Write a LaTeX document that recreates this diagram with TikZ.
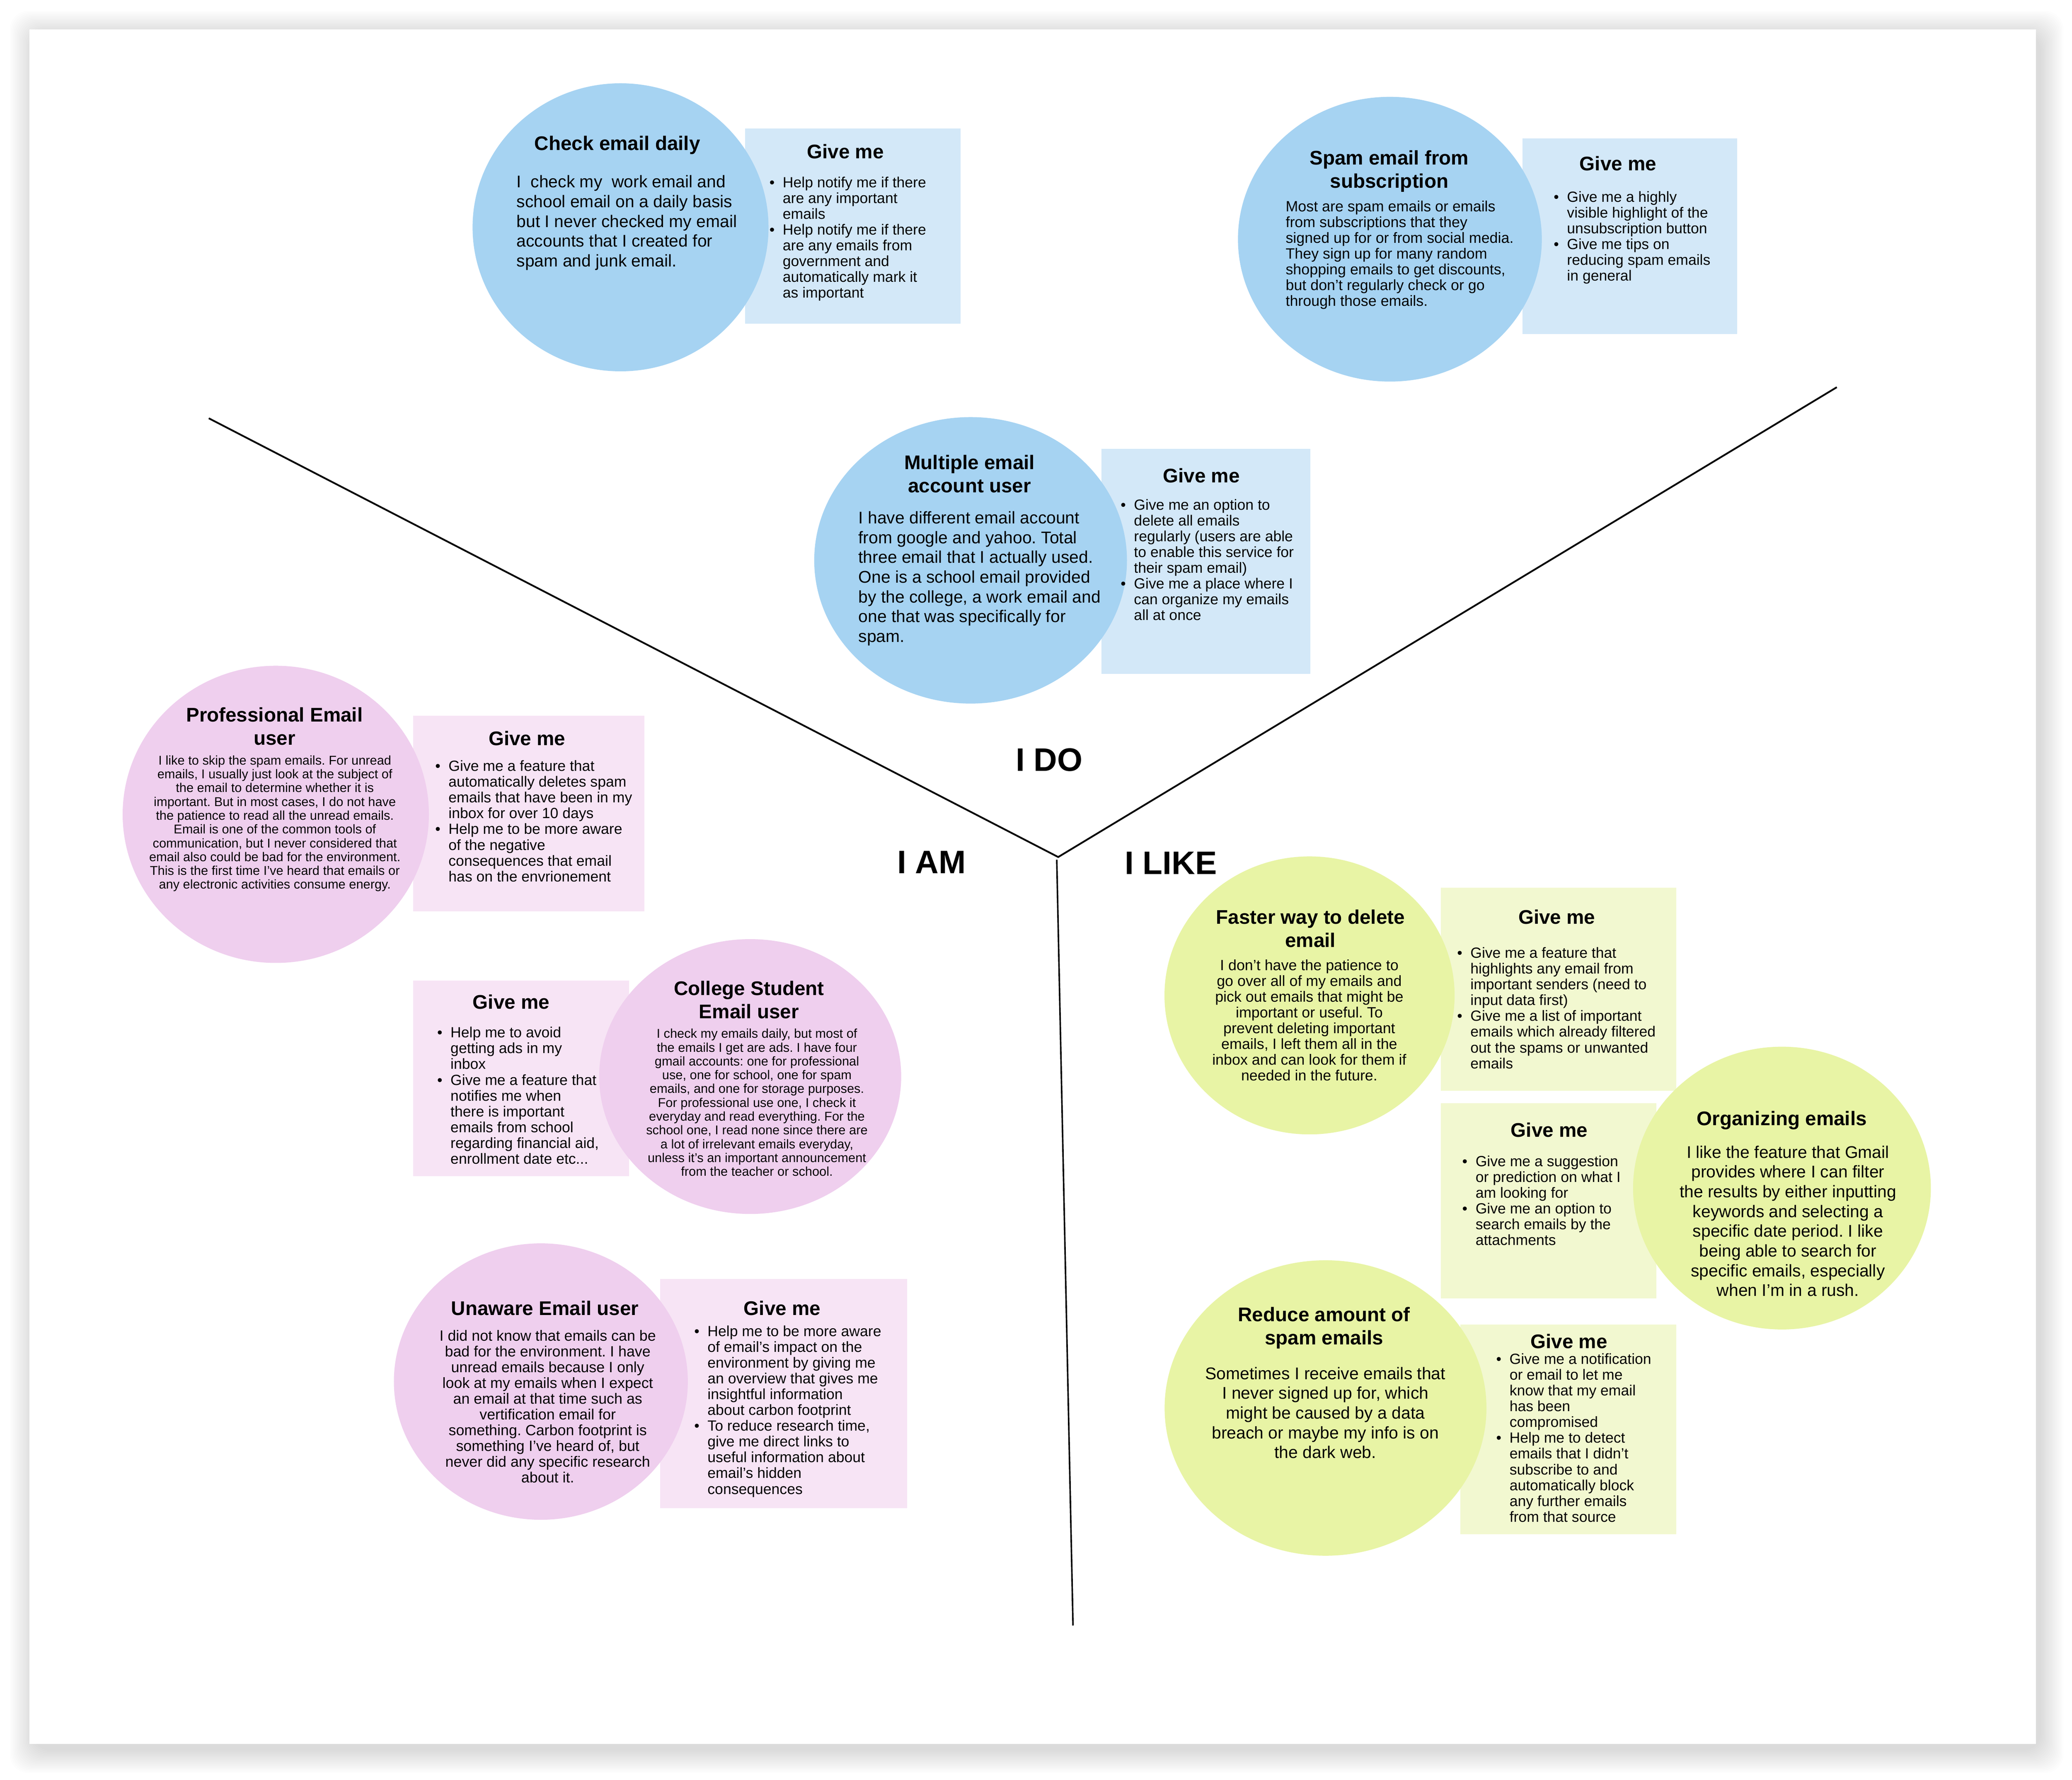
\documentclass[tikz,border=0pt]{standalone}
\usepackage{fontspec}
\setmainfont{Liberation Sans}
\usetikzlibrary{shapes.geometric,fit}
\definecolor{eblue}{HTML}{A6D3F2}
\definecolor{bblue}{HTML}{D3E8F8}
\definecolor{epink}{HTML}{EFCFEE}
\definecolor{bpink}{HTML}{F7E4F5}
\definecolor{egreen}{HTML}{E8F4A5}
\definecolor{bgreen}{HTML}{F2F8D0}
\newcommand\mystrut{\rule{0pt}{0.78em}}
\newcommand\bu{\mystrut\llap{\textbullet\hspace{3.5pt}}}
\frenchspacing
\begin{document}
\begin{tikzpicture}[x=0.02cm,y=-0.02cm,
  ell/.style={ellipse,draw=none,inner sep=0pt},
  gbox/.style={rectangle,draw=none,inner sep=0pt},
  ttl/.style={font=\fontsize{8.5}{10.0}\selectfont\bfseries,align=center,anchor=north,inner sep=0pt},
  fbig/.style={font=\fontsize{7.3}{8.51}\selectfont},
  fmed/.style={font=\fontsize{6.4}{6.79}\selectfont},
  fsml/.style={font=\fontsize{5.5}{5.94}\selectfont},
  fbul/.style={font=\fontsize{6.35}{6.8}\selectfont,align=left,anchor=north west,inner sep=0pt},
  txtL/.style={align=left,anchor=north west,inner sep=0pt},
  txtC/.style={align=center,anchor=north,inner sep=0pt},
  axisline/.style={draw=black,line width=0.75pt},
  lab/.style={font=\fontsize{14}{16}\selectfont\bfseries,inner sep=0pt}
]
\useasboundingbox (0,0) rectangle (1568,1346.6);
% page with soft shadow
\foreach \i in {1,...,18}{
  \fill[black,opacity=0.009,rounded corners=8pt] ({25.4-\i},{26.2-\i}) rectangle ({1543.6+\i},{1323.7+\i});
}
\fill[white] (22.4,22.2) rectangle (1540.6,1319.7);

% ---------- boxes ----------
\node[gbox,fill=bblue,fit={(564,97.2) (727,245)}] (b1) {};
\node[gbox,fill=bblue,fit={(1152,104.8) (1314.6,252.6)}] (b2) {};
\node[gbox,fill=bblue,fit={(833.5,339.6) (991.5,509.8)}] (b3) {};
\node[gbox,fill=bpink,fit={(312.8,541.5) (487.7,689.6)}] (b4) {};
\node[gbox,fill=bpink,fit={(312.5,741.9) (475.9,889.9)}] (b5) {};
\node[gbox,fill=bpink,fit={(499.7,967.8) (686.6,1141.2)}] (b6) {};
\node[gbox,fill=bgreen,fit={(1090.5,671.7) (1268.5,825.5)}] (b7) {};
\node[gbox,fill=bgreen,fit={(1090.5,834.8) (1253.5,982.5)}] (b8) {};
\node[gbox,fill=bgreen,fit={(1105.2,1002.2) (1268.5,1160.8)}] (b9) {};

% ---------- ellipses ----------
\node[ell,fill=eblue,minimum width=4.48cm,minimum height=4.36cm] (e1) at (469.6,172) {};
\node[ell,fill=eblue,minimum width=4.60cm,minimum height=4.31cm] (e2) at (1051.8,181) {};
\node[ell,fill=eblue,minimum width=4.734cm,minimum height=4.336cm] (e3) at (734.5,424) {};
\node[ell,fill=epink,minimum width=4.636cm,minimum height=4.498cm] (e4) at (208.7,616.2) {};
\node[ell,fill=epink,minimum width=4.572cm,minimum height=4.16cm] (e5) at (567.7,814.6) {};
\node[ell,fill=epink,minimum width=4.45cm,minimum height=4.184cm] (e6) at (409.3,1045.4) {};
\node[ell,fill=egreen,minimum width=4.392cm,minimum height=4.208cm] (e7) at (991,753.2) {};
\node[ell,fill=egreen,minimum width=4.508cm,minimum height=4.28cm] (e8) at (1348.5,899) {};
\node[ell,fill=egreen,minimum width=4.872cm,minimum height=4.472cm] (e9) at (1003.1,1065.4) {};

% ---------- group 1 ----------
\node[ttl] (t1) at (467.2,101.8) {\mystrut Check email daily};
\node[txtL,fbig] (d1) at (390.6,131.6) {\mystrut I\ \ check my\ \ work email and\\school email on a daily basis\\but I never checked my email\\accounts that I created for\\spam and junk email.};
\node[ttl] (g1) at (639.8,107.8) {\mystrut Give me};
\node[fbul] (l1) at (592,132.7) {\bu Help notify me if there\\are any important\\emails\\\bu Help notify me if there\\are any emails from\\government and\\automatically mark it\\as important};

% ---------- group 2 ----------
\node[ttl] (t2) at (1051.3,112.8) {\mystrut Spam email from\\subscription};
\node[txtL,fmed] (d2) at (972.6,151.0) {\mystrut Most are spam emails or emails\\from subscriptions that they\\signed up for or from social media.\\They sign up for many random\\shopping emails to get discounts,\\but don’t regularly check or go\\through those emails.};
\node[ttl] (g2) at (1224.4,117.1) {\mystrut Give me};
\node[fbul] (l2) at (1185.5,143.8) {\bu Give me a highly\\visible highlight of the\\unsubscription button\\\bu Give me tips on\\reducing spam emails\\in general};

% ---------- group 3 ----------
\node[ttl] (t3) at (733.7,343.2) {\mystrut Multiple email\\account user};
\node[txtL,fbig] (d3) at (649.3,385.9) {\mystrut I have different email account\\from google and yahoo. Total\\three email that I actually used.\\One is a school email provided\\by the college, a work email and\\one that was specifically for\\spam.};
\node[ttl] (g3) at (909.1,353.2) {\mystrut Give me};
\node[fbul] (l3) at (857.8,376.7) {\bu Give me an option to\\delete all emails\\regularly (users are able\\to enable this service for\\their spam email)\\\bu Give me a place where I\\can organize my emails\\all at once};

% ---------- group 4 ----------
\node[ttl] (t4) at (207.7,534.0) {\mystrut Professional Email\\user};
\node[txtC,fsml] (d4) at (208,570.8) {\mystrut I like to skip the spam emails. For unread\\emails, I usually just look at the subject of\\the email to determine whether it is\\important. But in most cases, I do not have\\the patience to read all the unread emails.\\Email is one of the common tools of\\communication, but I never considered that\\email also could be bad for the environment.\\This is the first time I’ve heard that emails or\\any electronic activities consume energy.};
\node[ttl] (g4) at (398.8,552.1) {\mystrut Give me};
\node[fbul] (l4) at (339.1,574.4) {\bu Give me a feature that\\automatically deletes spam\\emails that have been in my\\inbox for over 10 days\\\bu Help me to be more aware\\of the negative\\consequences that email\\has on the envrionement};

% ---------- group 5 ----------
\node[ttl] (g5) at (386.8,751.3) {\mystrut Give me};
\node[fbul] (l5) at (340.6,776.1) {\bu Help me to avoid\\getting ads in my\\inbox\\\bu Give me a feature that\\notifies me when\\there is important\\emails from school\\regarding financial aid,\\enrollment date etc...};
\node[ttl] (t5) at (566.8,741.0) {\mystrut College Student\\Email user};
\node[txtC,fsml] (d5) at (572.8,777.6) {\mystrut I check my emails daily, but most of\\the emails I get are ads. I have four\\gmail accounts: one for professional\\use, one for school, one for spam\\emails, and one for storage purposes.\\For professional use one, I check it\\everyday and read everything. For the\\school one, I read none since there are\\a lot of irrelevant emails everyday,\\unless it’s an important announcement\\from the teacher or school.};

% ---------- group 6 ----------
\node[ttl] (t6) at (412.4,983.3) {\mystrut Unaware Email user};
\node[txtC,fmed] (d6) at (414.5,1005.4) {\mystrut I did not know that emails can be\\bad for the environment. I have\\unread emails because I only\\look at my emails when I expect\\an email at that time such as\\vertification email for\\something. Carbon footprint is\\something I’ve heard of, but\\never did any specific research\\about it.};
\node[ttl] (g6) at (591.9,983.3) {\mystrut Give me};
\node[fbul] (l6) at (535.1,1002.0) {\bu Help me to be more aware\\of email’s impact on the\\environment by giving me\\an overview that gives me\\insightful information\\about carbon footprint\\\bu To reduce research time,\\give me direct links to\\useful information about\\email’s hidden\\consequences};

% ---------- group 7 ----------
\node[ttl] (t7) at (991.7,687.2) {\mystrut Faster way to delete\\email};
\node[txtC,fmed] (d7) at (990.8,725.2) {\mystrut I don’t have the patience to\\go over all of my emails and\\pick out emails that might be\\important or useful. To\\prevent deleting important\\emails, I left them all in the\\inbox and can look for them if\\needed in the future.};
\node[ttl] (g7) at (1178.1,687.2) {\mystrut Give me};
\node[fbul] (l7) at (1112.4,715.8) {\bu Give me a feature that\\highlights any email from\\important senders (need to\\input data first)\\\bu Give me a list of important\\emails which already filtered\\out the spams or unwanted\\emails};

% ---------- group 8 ----------
\node[ttl] (g8) at (1172.4,848.3) {\mystrut Give me};
\node[fbul] (l8) at (1116.3,873.4) {\bu Give me a suggestion\\or prediction on what I\\am looking for\\\bu Give me an option to\\search emails by the\\attachments};
\node[ttl] (t8) at (1348.4,839.6) {\mystrut Organizing emails};
\node[txtC,fbig] (d8) at (1353,865.9) {\mystrut I like the feature that Gmail\\provides where I can filter\\the results by either inputting\\keywords and selecting a\\specific date period. I like\\being able to search for\\specific emails, especially\\when I’m in a rush.};

% ---------- group 9 ----------
\node[ttl] (t9) at (1002,987.9) {\mystrut Reduce amount of\\spam emails};
\node[txtC,fbig] (d9) at (1003,1033.3) {\mystrut Sometimes I receive emails that\\I never signed up for, which\\might be caused by a data\\breach or maybe my info is on\\the dark web.};
\node[ttl] (g9) at (1187.3,1008.2) {\mystrut Give me};
\node[fbul] (l9) at (1142,1023.1) {\bu Give me a notification\\or email to let me\\know that my email\\has been\\compromised\\\bu Help me to detect\\emails that I didn’t\\subscribe to and\\automatically block\\any further emails\\from that source};

% ---------- axes ----------
\coordinate (lt) at (158,316.5);
\coordinate (rt) at (1390,293);
\coordinate (apex) at (800.8,648.5);
\coordinate (vt) at (799.7,650.5);
\coordinate (vb) at (812,1230);
\draw[axisline] (lt) -- (apex) -- (rt);
\draw[axisline,line width=0.65pt] (vt) -- (vb);
\node[lab] (ido) at (794,575) {I DO};
\node[lab] (iam) at (705,652.5) {I AM};
\node[lab] (ilike) at (886,653) {I LIKE};
\end{tikzpicture}
\end{document}
